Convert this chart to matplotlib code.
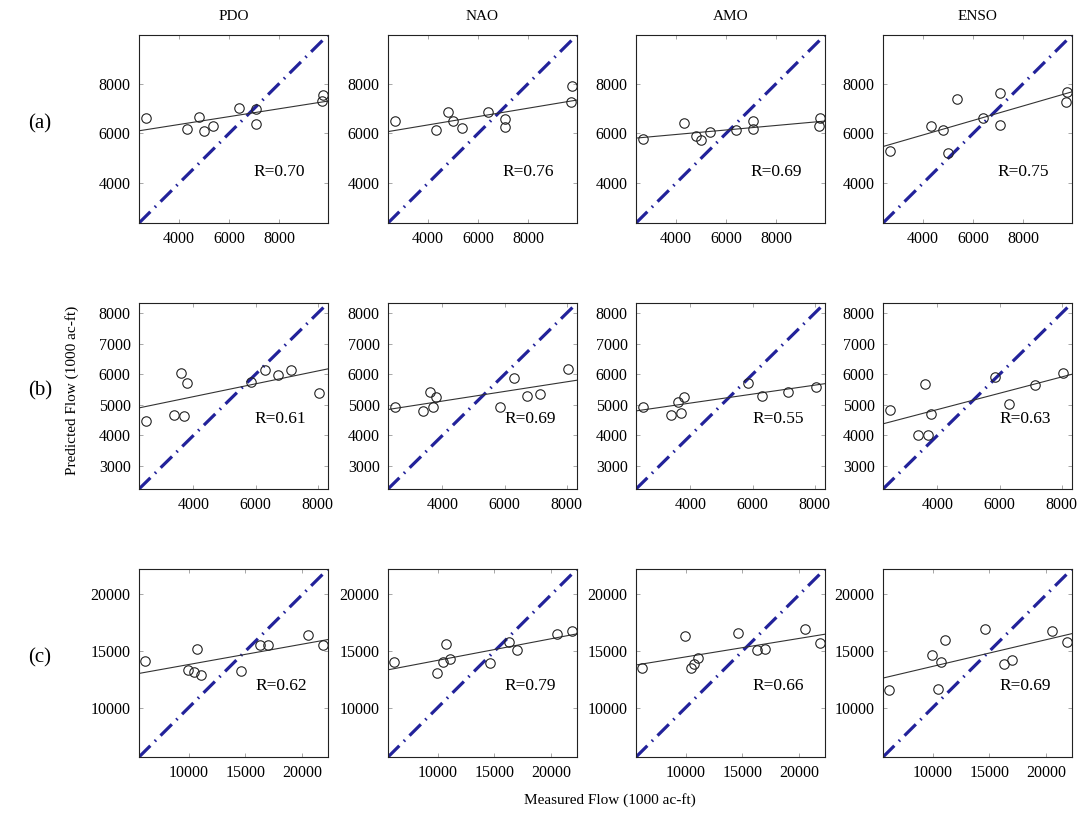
import numpy as np
import matplotlib.pyplot as plt

plt.rcParams['font.family'] = ['Liberation Serif', 'DejaVu Serif']

indices = ['PDO', 'NAO', 'AMO', 'ENSO']
row_labels = ['(a)', '(b)', '(c)']

# measured flow (1000 ac-ft), one list per row
meas_a = [2690, 4320, 4790, 5010, 5370, 6385, 7080, 7075, 9740, 9705]
meas_b = [2465, 3385, 3600, 3710, 3805, 5845, 6305, 6725, 7140, 8050]
meas_c = [6200, 9920, 10480, 10780, 11080, 14630, 16280, 16950, 20460, 21800]

# predicted flow per index
pred_a_pdo = [6630, 6175, 6670, 6110, 6300, 7000, 6985, 6380, 7535, 7280]
pred_a_nao = [6500, 6135, 6875, 6510, 6230, 6875, 6595, 6270, 7885, 7240]
pred_a_amo = [5770, 6430, 5890, 5730, 6040, 6135, 6485, 6175, 6605, 6295]
pred_a_enso = [5300, 6295, 6135, 5220, 7375, 6635, 7615, 6335, 7645, 7265]

pred_b_pdo = [4485, 4670, 6035, 4640, 5730, 5760, 6145, 5990, 6145, 5400]
pred_b_nao = [4945, 4785, 5435, 4945, 5250, 4915, 5890, 5295, 5355, 6160]
pred_b_amo = [4945, 4675, 5085, 4750, 5250, 5725, 5290, np.nan, 5435, 5595]
pred_b_enso = [4835, 4000, 5690, 4000, 4710, 5910, 5015, np.nan, 5635, 6040]

pred_c_pdo = [14110, 13340, 13130, 15210, 12920, 13220, 15565, 15565, 16455, 15565]
pred_c_nao = [14080, 13040, 14020, 15650, 14320, 13930, 15800, 15120, 16485, 16750]
pred_c_amo = [13515, 16335, 13515, 13870, 14405, 16600, 15060, 15210, 16930, 15740]
pred_c_enso = [11560, 14675, 11645, 14080, 16010, 16990, 13870, 14230, 16750, 15800]

r_a = ['0.70', '0.76', '0.69', '0.75']
r_b = ['0.61', '0.69', '0.55', '0.63']
r_c = ['0.62', '0.79', '0.66', '0.69']

rows = [
    (meas_a, [pred_a_pdo, pred_a_nao, pred_a_amo, pred_a_enso], r_a,
     (2400, 9950), [4000, 6000, 8000], [4000, 6000, 8000], (0.74, 0.27)),
    (meas_b, [pred_b_pdo, pred_b_nao, pred_b_amo, pred_b_enso], r_b,
     (2250, 8330), [4000, 6000, 8000], [3000, 4000, 5000, 6000, 7000, 8000], (0.75, 0.375)),
    (meas_c, [pred_c_pdo, pred_c_nao, pred_c_amo, pred_c_enso], r_c,
     (5650, 22250), [10000, 15000, 20000], [10000, 15000, 20000], (0.755, 0.375)),
]

W, H = 1081, 817
fig = plt.figure(figsize=(W / 100, H / 100), dpi=100)

col_left = [139, 388, 636, 883]
row_top = [35, 303, 569]
row_h = [188, 186, 188]
aw = 189

for i, (meas, preds, rs, lim, xt, yt, rpos) in enumerate(rows):
    for j in range(4):
        bottom = row_top[i] + row_h[i]
        ax = fig.add_axes([col_left[j] / W, (H - bottom) / H, aw / W, row_h[i] / H])
        x = np.array(meas, dtype=float)
        y = np.array(preds[j], dtype=float)
        ok = np.isfinite(y)
        # 1:1 line
        ax.plot(lim, lim, color='#22229a', lw=2.3, dashes=[5, 2, 0.5, 2])
        # least squares fit
        p = np.polyfit(x[ok], y[ok], 1)
        xx = np.array(lim)
        ax.plot(xx, np.polyval(p, xx), color='#333333', lw=0.8)
        ax.plot(x[ok], y[ok], 'o', mfc='none', mec='#222222', mew=0.8, ms=6.8)
        ax.text(rpos[0], rpos[1], 'R=' + rs[j], transform=ax.transAxes,
                ha='center', va='center', fontsize=12.5)
        ax.set_xlim(lim)
        ax.set_ylim(lim)
        ax.set_xticks(xt)
        ax.set_yticks(yt)
        ax.tick_params(direction='in', length=3, width=0.6, top=True, right=True,
                       labelsize=11.5, pad=6, color='#999999')
        for s in ax.spines.values():
            s.set_linewidth(0.8)
            s.set_color('#222222')
        if i == 0:
            ax.set_title(indices[j], fontsize=11, pad=11)

for i, lab in enumerate(row_labels):
    yc = row_top[i] + row_h[i] / 2 - 5
    fig.text(40 / W, (H - yc) / H, lab, fontsize=15, ha='center', va='center')

fig.text(72 / W, (H - 390) / H, 'Predicted Flow (1000 ac-ft)', rotation=90,
         ha='center', va='center', fontsize=11)
fig.text(610 / W, (H - 800) / H, 'Measured Flow (1000 ac-ft)',
         ha='center', va='center', fontsize=11)

fig.savefig('out.png', dpi=100)
